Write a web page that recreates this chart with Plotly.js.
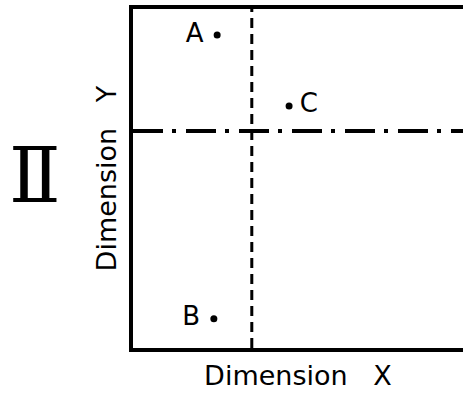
<!DOCTYPE html>
<html>
<head>
<meta charset="utf-8">
<script src="https://cdn.plot.ly/plotly-3.0.1.min.js"></script>
<style>
  html, body { margin: 0; padding: 0; background: #fff; }
  #chart { width: 463px; height: 397px; }
</style>
</head>
<body>
<div id="chart"></div>
<script>
// points on the two dimensions
const pointNames = ['A\u00a0', 'B\u00a0', '\u2009C'];
const pointX = [2.55, 2.45, 4.73];
const pointY = [9.23, 0.86, 7.14];
const labelSide = ['middle left', 'middle left', 'middle right'];

// where the two dividing lines sit
const splitX = 3.6;
const splitY = 6.4;

const font = 'DejaVu Sans, sans-serif';
const nb = '\u00a0\u00a0\u00a0';

const trace = {
    x: pointX,
    y: pointY,
    text: pointNames,
    mode: 'markers+text',
    type: 'scatter',
    textposition: labelSide,
    textfont: { family: font, size: 26, color: '#000' },
    marker: { color: '#000', size: 7 },
    hoverinfo: 'skip',
    cliponaxis: false
};

const hidden = {
    showgrid: false,
    zeroline: false,
    showticklabels: false,
    ticks: '',
    fixedrange: true
};

const layout = {
    width: 463,
    height: 397,
    margin: { l: 133, r: 0, t: 9, b: 49, pad: 0 },
    paper_bgcolor: '#fff',
    plot_bgcolor: '#fff',
    showlegend: false,
    xaxis: Object.assign({}, hidden, {
        range: [0, 10],
        showline: true,
        mirror: true,
        linecolor: '#000',
        linewidth: 4,
        title: { text: 'Dimension' + nb + 'X', font: { family: font, size: 27, color: '#000' }, standoff: 16 }
    }),
    yaxis: Object.assign({}, hidden, {
        range: [0, 10],
        showline: true,
        linecolor: '#000',
        linewidth: 4,
        title: { text: 'Dimension' + nb + 'Y', font: { family: font, size: 27, color: '#000' }, standoff: 6 }
    }),
    shapes: [
        {
            type: 'line', xref: 'x', yref: 'y',
            x0: splitX, x1: splitX, y0: 0, y1: 10,
            line: { color: '#000', width: 3, dash: '10px,6px' }
        },
        {
            type: 'line', xref: 'x', yref: 'y',
            x0: 0, x1: 10, y0: splitY, y1: splitY,
            line: { color: '#000', width: 4, dash: '30px,9px,4px,10px' }
        }
    ],
    annotations: [
        {
            text: '\u2161',
            xref: 'paper', yref: 'paper',
            x: 0, y: 0.5,
            xshift: -126, yshift: 3,
            showarrow: false,
            font: { family: 'DejaVu Serif, serif', size: 76, color: '#000' }
        }
    ]
};

Plotly.newPlot('chart', [trace], layout, { displayModeBar: false, staticPlot: true });
</script>
</body>
</html>
